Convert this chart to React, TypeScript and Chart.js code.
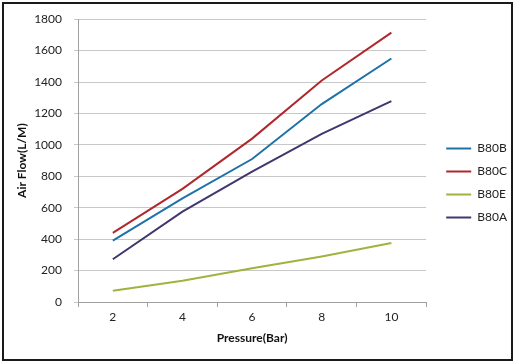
import React, { useEffect, useRef } from "react";
import { Chart, registerables } from "chart.js";

Chart.register(...registerables);

const categories = ["2", "4", "6", "8", "10"];
const seriesNames = ["B80B", "B80C", "B80E", "B80A"];
const b80b = [390, 660, 910, 1260, 1550];
const b80c = [440, 720, 1040, 1410, 1715];
const b80e = [72, 135, 215, 290, 375];
const b80a = [272, 575, 830, 1070, 1278];
const seriesColors = ["#1F72A8", "#B0282C", "#9DB43E", "#43366F"];
const yTicks = [0, 200, 400, 600, 800, 1000, 1200, 1400, 1600, 1800];

const FONT = "Lato, 'Open Sans', sans-serif";

const framePlugin = {
  id: "frame",
  afterLayout(chart: any) {
    const lg = chart.legend;
    if (lg) {
      lg.left += 9;
      lg.right += 9;
      lg.top += 3;
      lg.bottom += 3;
    }
  },
  beforeDraw(chart: any) {
    const { ctx, width, height } = chart;
    ctx.save();
    ctx.fillStyle = "#ffffff";
    ctx.fillRect(0, 0, width, height);
    ctx.restore();
  },
  afterDraw(chart: any) {
    const { ctx } = chart;
    ctx.save();
    ctx.strokeStyle = "#1a1a1a";
    ctx.lineWidth = 2;
    ctx.strokeRect(3, 3, 509, 357);
    ctx.restore();
  },
};

export default function App() {
  const ref = useRef<HTMLCanvasElement | null>(null);
  useEffect(() => {
    document.body.style.margin = "0";
    const values = [b80b, b80c, b80e, b80a];
    const chart = new Chart(ref.current as HTMLCanvasElement, {
      type: "line",
      data: {
        labels: categories,
        datasets: seriesNames.map((name, i) => ({
          label: name,
          data: values[i],
          borderColor: seriesColors[i],
          backgroundColor: seriesColors[i],
          borderWidth: 2,
          pointRadius: 0,
          tension: 0,
          fill: false,
        })),
      },
      options: {
        animation: false,
        responsive: false,
        maintainAspectRatio: false,
        layout: { padding: { left: 10, top: 10, right: 12, bottom: 14 } },
        plugins: {
          tooltip: { enabled: false },
          legend: {
            position: "right",
            labels: {
              usePointStyle: true,
              pointStyle: "line",
              pointStyleWidth: 25,
              boxHeight: 12,
              padding: 11,
              color: "#222",
              font: { family: FONT, size: 12 },
            },
          },
        },
        scales: {
          x: {
            type: "category",
            offset: true,
            grid: {
              offset: true,
              drawOnChartArea: false,
              drawTicks: true,
              tickLength: 5,
              color: "#a0a0a0",
            },
            border: { display: true, color: "#a0a0a0" },
            ticks: { color: "#222", padding: 3, font: { family: FONT, size: 12 } },
            title: {
              display: true,
              text: "Pressure(Bar)",
              color: "#111",
              font: { family: FONT, size: 12, weight: "bold" },
              padding: { top: 4, bottom: 5 },
            },
            afterFit(scale: any) {
              scale.height = 48;
            },
          },
          y: {
            min: 0,
            max: 1800,
            afterBuildTicks(scale: any) {
              scale.ticks = yTicks.map((v) => ({ value: v }));
            },
            grid: { color: "#c8c8c8", tickLength: 4 },
            border: { display: true, color: "#a0a0a0" },
            ticks: {
              color: "#222",
              padding: 12,
              font: { family: FONT, size: 12 },
              callback: (v: any) => String(v),
            },
            title: {
              display: true,
              text: "Air Flow(L/M)",
              color: "#111",
              font: { family: FONT, size: 12, weight: "bold" },
              padding: { top: 5, bottom: 0 },
            },
            afterFit(scale: any) {
              scale.width = 68;
            },
          },
        },
      },
      plugins: [framePlugin],
    });
    return () => chart.destroy();
  }, []);
  return <canvas ref={ref} width={520} height={364} style={{ display: "block" }} />;
}
